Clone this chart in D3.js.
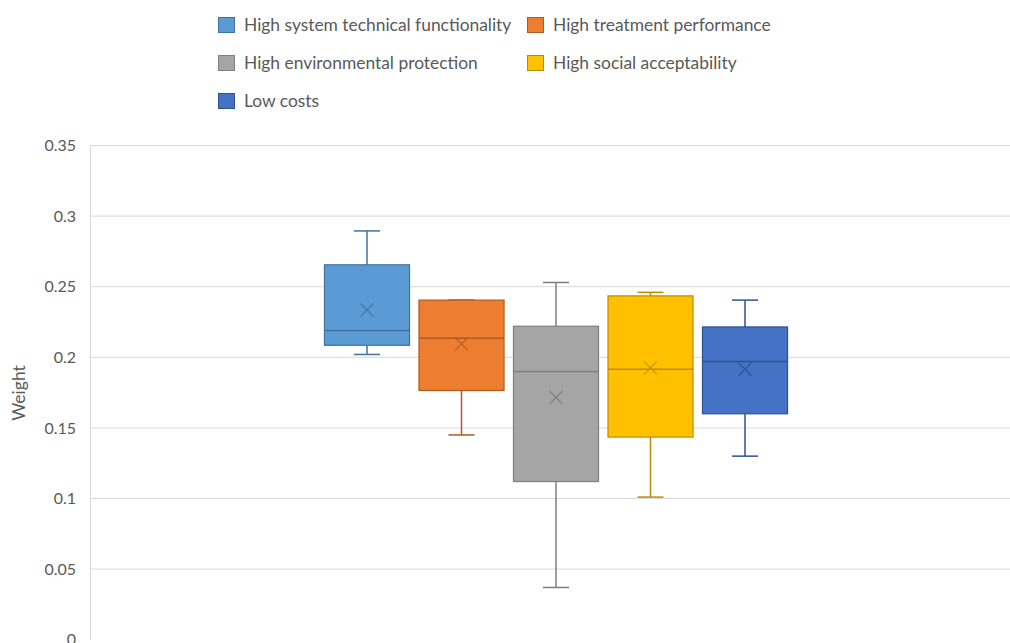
<!DOCTYPE html>
<html>
<head>
<meta charset="utf-8">
<script src="https://cdn.jsdelivr.net/npm/d3@7"></script>
<style>
  html, body { margin: 0; padding: 0; background: #fff; }
  svg { display: block; font-family: Lato, "Liberation Sans", sans-serif; }
</style>
</head>
<body>
<svg id="chart" width="1010" height="643"></svg>
<script>
// Criteria weights: five-number summaries plus mean for each criterion
const series = [
  "High system technical functionality",
  "High treatment performance",
  "High environmental protection",
  "High social acceptability",
  "Low costs"
];
const minVals    = [0.202, 0.145, 0.037, 0.101, 0.130];
const q1Vals     = [0.2085, 0.1765, 0.112, 0.1435, 0.160];
const medianVals = [0.219, 0.2135, 0.190, 0.1915, 0.197];
const q3Vals     = [0.2655, 0.2405, 0.222, 0.2435, 0.2215];
const maxVals    = [0.2895, 0.2405, 0.253, 0.246, 0.2405];
const meanVals   = [0.2335, 0.2095, 0.1715, 0.1925, 0.1915];
const yTicks     = [0, 0.05, 0.1, 0.15, 0.2, 0.25, 0.3, 0.35];

const fills   = ["#5B9BD5", "#ED7D31", "#A5A5A5", "#FFC000", "#4472C4"];
const strokes = ["#41719C", "#AE5A21", "#7F7F7F", "#BC8C00", "#2F528F"];

const svg = d3.select("#chart");
const plot = { left: 90, right: 1022, top: 145.5, bottom: 639.7 };

const y = d3.scaleLinear().domain([0, 0.35]).range([plot.bottom, plot.top]);
const xCat = d3.scaleBand().domain(["all"]).range([plot.left, plot.right]);
const xSeries = d3.scaleBand().domain(series)
  .range([xCat("all") + xCat.bandwidth() * 0.2465, xCat("all") + xCat.bandwidth() * 0.7535])
  .paddingInner(0.1).paddingOuter(0.05);

// Gridlines
svg.append("g").selectAll("line").data(yTicks.filter(t => t > 0)).join("line")
  .attr("x1", plot.left).attr("x2", plot.right)
  .attr("y1", d => y(d)).attr("y2", d => y(d))
  .attr("stroke", "#d9d9d9").attr("stroke-width", 1);

// Vertical axis line and tick labels
const yAxis = d3.axisLeft(y).tickValues(yTicks).tickSize(0).tickPadding(14)
  .tickFormat(d => String(+d.toFixed(2)));
const gy = svg.append("g").attr("transform", `translate(${plot.left},0)`).call(yAxis);
gy.select(".domain").attr("stroke", "#d9d9d9").attr("stroke-width", 1);
gy.selectAll("text").attr("fill", "#595959").attr("font-size", 16)
  .attr("font-family", "Lato, 'Liberation Sans', sans-serif");

svg.append("text")
  .attr("transform", `translate(25,393) rotate(-90)`)
  .attr("text-anchor", "middle")
  .attr("fill", "#595959").attr("font-size", 17.5)
  .text("Weight");

// Boxes
const capW = 26;
const rows = series.map((s, i) => ({
  name: s, min: minVals[i], q1: q1Vals[i], med: medianVals[i], q3: q3Vals[i],
  max: maxVals[i], mean: meanVals[i], fill: fills[i], stroke: strokes[i]
}));

const g = svg.append("g").selectAll("g").data(rows).join("g")
  .attr("transform", d => `translate(${xSeries(d.name)},0)`);
const bw = xSeries.bandwidth();

// whiskers
g.append("line").attr("x1", bw / 2).attr("x2", bw / 2)
  .attr("y1", d => y(d.max)).attr("y2", d => y(d.q3))
  .attr("stroke", d => d.stroke).attr("stroke-width", 1.5);
g.append("line").attr("x1", bw / 2).attr("x2", bw / 2)
  .attr("y1", d => y(d.q1)).attr("y2", d => y(d.min))
  .attr("stroke", d => d.stroke).attr("stroke-width", 1.5);
g.append("line").attr("x1", bw / 2 - capW / 2).attr("x2", bw / 2 + capW / 2)
  .attr("y1", d => y(d.max)).attr("y2", d => y(d.max))
  .attr("stroke", d => d.stroke).attr("stroke-width", 1.5);
g.append("line").attr("x1", bw / 2 - capW / 2).attr("x2", bw / 2 + capW / 2)
  .attr("y1", d => y(d.min)).attr("y2", d => y(d.min))
  .attr("stroke", d => d.stroke).attr("stroke-width", 1.5);

// box
g.append("rect").attr("x", 0).attr("width", bw)
  .attr("y", d => y(d.q3)).attr("height", d => y(d.q1) - y(d.q3))
  .attr("fill", d => d.fill).attr("stroke", d => d.stroke).attr("stroke-width", 1.2);

// median
g.append("line").attr("x1", 0).attr("x2", bw)
  .attr("y1", d => y(d.med)).attr("y2", d => y(d.med))
  .attr("stroke", d => d.stroke).attr("stroke-width", 1.5);

// mean marker
const m = 6.5;
g.append("path")
  .attr("d", d => {
    const cx = bw / 2, cy = y(d.mean);
    return `M${cx - m},${cy - m}L${cx + m},${cy + m}M${cx - m},${cy + m}L${cx + m},${cy - m}`;
  })
  .attr("stroke", d => d.stroke).attr("stroke-width", 1.3).attr("fill", "none").attr("opacity", 0.85);

// Legend
const legendPos = [
  { x: 218, y: 25 }, { x: 527, y: 25 },
  { x: 218, y: 63 }, { x: 527, y: 63 },
  { x: 218, y: 101 }
];
const lg = svg.append("g").selectAll("g").data(rows).join("g")
  .attr("transform", (d, i) => `translate(${legendPos[i].x},${legendPos[i].y})`);
lg.append("rect").attr("x", 0.5).attr("y", -7.5).attr("width", 16).attr("height", 15)
  .attr("fill", d => d.fill).attr("stroke", d => d.stroke).attr("stroke-width", 1);
lg.append("text").attr("x", 26).attr("y", 0).attr("dy", "0.36em")
  .attr("fill", "#595959").attr("font-size", 17.4)
  .text(d => d.name);
</script>
</body>
</html>
